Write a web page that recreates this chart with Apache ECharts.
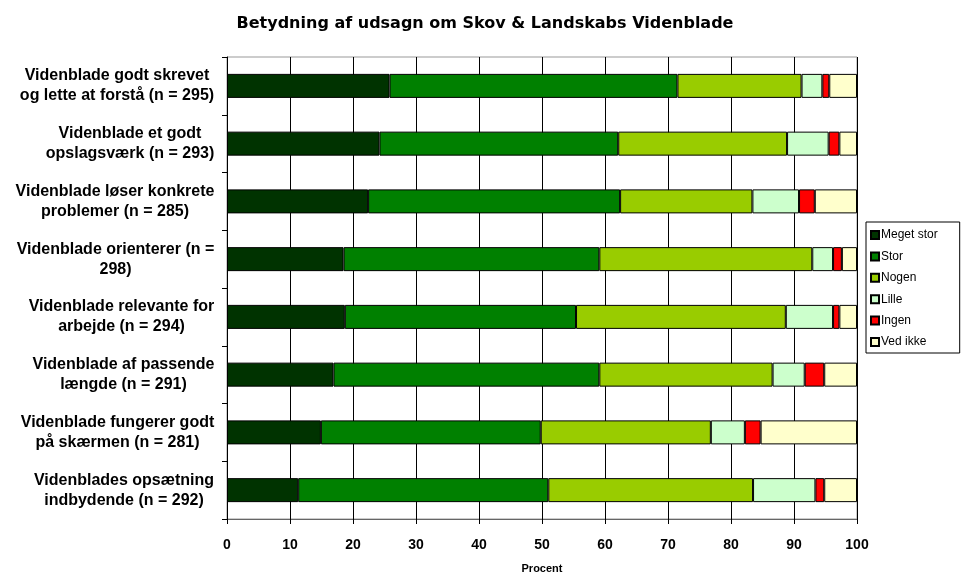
<!DOCTYPE html>
<html>
<head>
<meta charset="utf-8">
<script src="https://cdn.jsdelivr.net/npm/echarts@6/dist/echarts.min.js"></script>
<style>
  html, body { margin: 0; padding: 0; background: #fff; }
  #chart { width: 968px; height: 574px; }
</style>
</head>
<body>
<div id="chart"></div>
<script>
const categories = [
  'Videnblade godt skrevet\nog lette at forstå (n = 295)',
  'Videnblade et godt\nopslagsværk (n = 293)',
  'Videnblade løser konkrete\nproblemer (n = 285)',
  'Videnblade orienterer (n =\n298)',
  'Videnblade relevante for\narbejde (n = 294)',
  'Videnblade af passende\nlængde (n = 291)',
  'Videnblade fungerer godt\npå skærmen (n = 281)',
  'Videnblades opsætning\nindbydende (n = 292)'
];
const megetStor = [25.8, 24.2, 22.4, 18.5, 18.7, 16.9, 14.9, 11.3];
const stor = [45.7, 37.9, 40.0, 40.6, 36.7, 42.2, 34.9, 39.7];
const nogen = [19.7, 26.8, 21.0, 33.8, 33.3, 27.5, 27.0, 32.5];
const lille = [3.3, 6.6, 7.4, 3.3, 7.5, 5.1, 5.4, 9.9];
const ingen = [1.1, 1.7, 2.5, 1.4, 1.0, 3.1, 2.5, 1.4];
const vedIkke = [4.4, 2.8, 6.7, 2.4, 2.8, 5.2, 15.3, 5.2];

const seriesNames = ['Meget stor', 'Stor', 'Nogen', 'Lille', 'Ingen', 'Ved ikke'];
const seriesData = [megetStor, stor, nogen, lille, ingen, vedIkke];
const colors = ['#003300', '#008000', '#99cc00', '#ccffcc', '#ff0000', '#ffffcc'];

const FONT = 'Arial, "Liberation Sans", sans-serif';
const labelSize = 16;

// each label block is as wide as its widest line, lines centred inside it
const ctx = document.createElement('canvas').getContext('2d');
ctx.font = 'bold ' + labelSize + 'px ' + FONT;
const rich = {};
categories.forEach((c, i) => {
  const w = Math.max(...c.split('\n').map((s) => ctx.measureText(s).width));
  rich['l' + i] = {
    width: Math.ceil(w) + 1,
    align: 'center',
    fontWeight: 'bold',
    fontSize: labelSize,
    lineHeight: 20,
    color: '#000',
    fontFamily: FONT
  };
});

const chart = echarts.init(document.getElementById('chart'));

chart.setOption({
  animation: false,
  textStyle: { fontFamily: FONT },
  title: {
    text: 'Betydning af udsagn om Skov & Landskabs Videnblade',
    left: 480,
    top: 11,
    textAlign: 'center',
    textStyle: { fontSize: 16, fontWeight: 'bold', color: '#000', fontFamily: '"DejaVu Sans", sans-serif' }
  },
  legend: {
    orient: 'vertical',
    left: 866,
    top: 222,
    padding: [6, 22, 4, 4],
    borderColor: '#000',
    borderWidth: 1,
    itemWidth: 8,
    itemHeight: 8,
    itemGap: 7.4,
    icon: 'rect',
    textStyle: { fontSize: 12, lineHeight: 14, color: '#000', padding: [0, 0, 0, -3] },
    data: seriesNames
  },
  grid: {
    left: 227,
    right: 111,
    top: 57,
    bottom: 55,
    outerBoundsMode: 'none',
    show: true,
    borderColor: '#999',
    borderWidth: 1
  },
  xAxis: {
    type: 'value',
    min: 0,
    max: 100,
    interval: 10,
    name: 'Procent',
    nameLocation: 'middle',
    nameGap: 44,
    nameTextStyle: { fontSize: 11, fontWeight: 'bold', color: '#000' },
    axisLine: { show: true, lineStyle: { color: '#666', width: 1 } },
    axisTick: { show: true, length: 5, lineStyle: { color: '#000' } },
    axisLabel: { fontSize: 14, fontWeight: 'bold', color: '#000', margin: 19 },
    splitLine: { show: true, lineStyle: { color: '#000', width: 1 } }
  },
  yAxis: {
    type: 'category',
    inverse: true,
    data: categories,
    axisLine: { show: true, lineStyle: { color: '#000', width: 1 } },
    axisTick: { show: true, length: 5, lineStyle: { color: '#000' } },
    axisLabel: {
      margin: 12,
      interval: 0,
      formatter: (value, idx) => value.split('\n').map((s) => '{l' + idx + '|' + s + '}').join('\n'),
      rich: rich
    }
  },
  series: seriesNames.map((name, i) => ({
    name: name,
    type: 'bar',
    stack: 'total',
    barWidth: 24,
    data: seriesData[i],
    itemStyle: { color: colors[i], borderColor: '#000', borderWidth: 1 }
  }))
});
</script>
</body>
</html>
